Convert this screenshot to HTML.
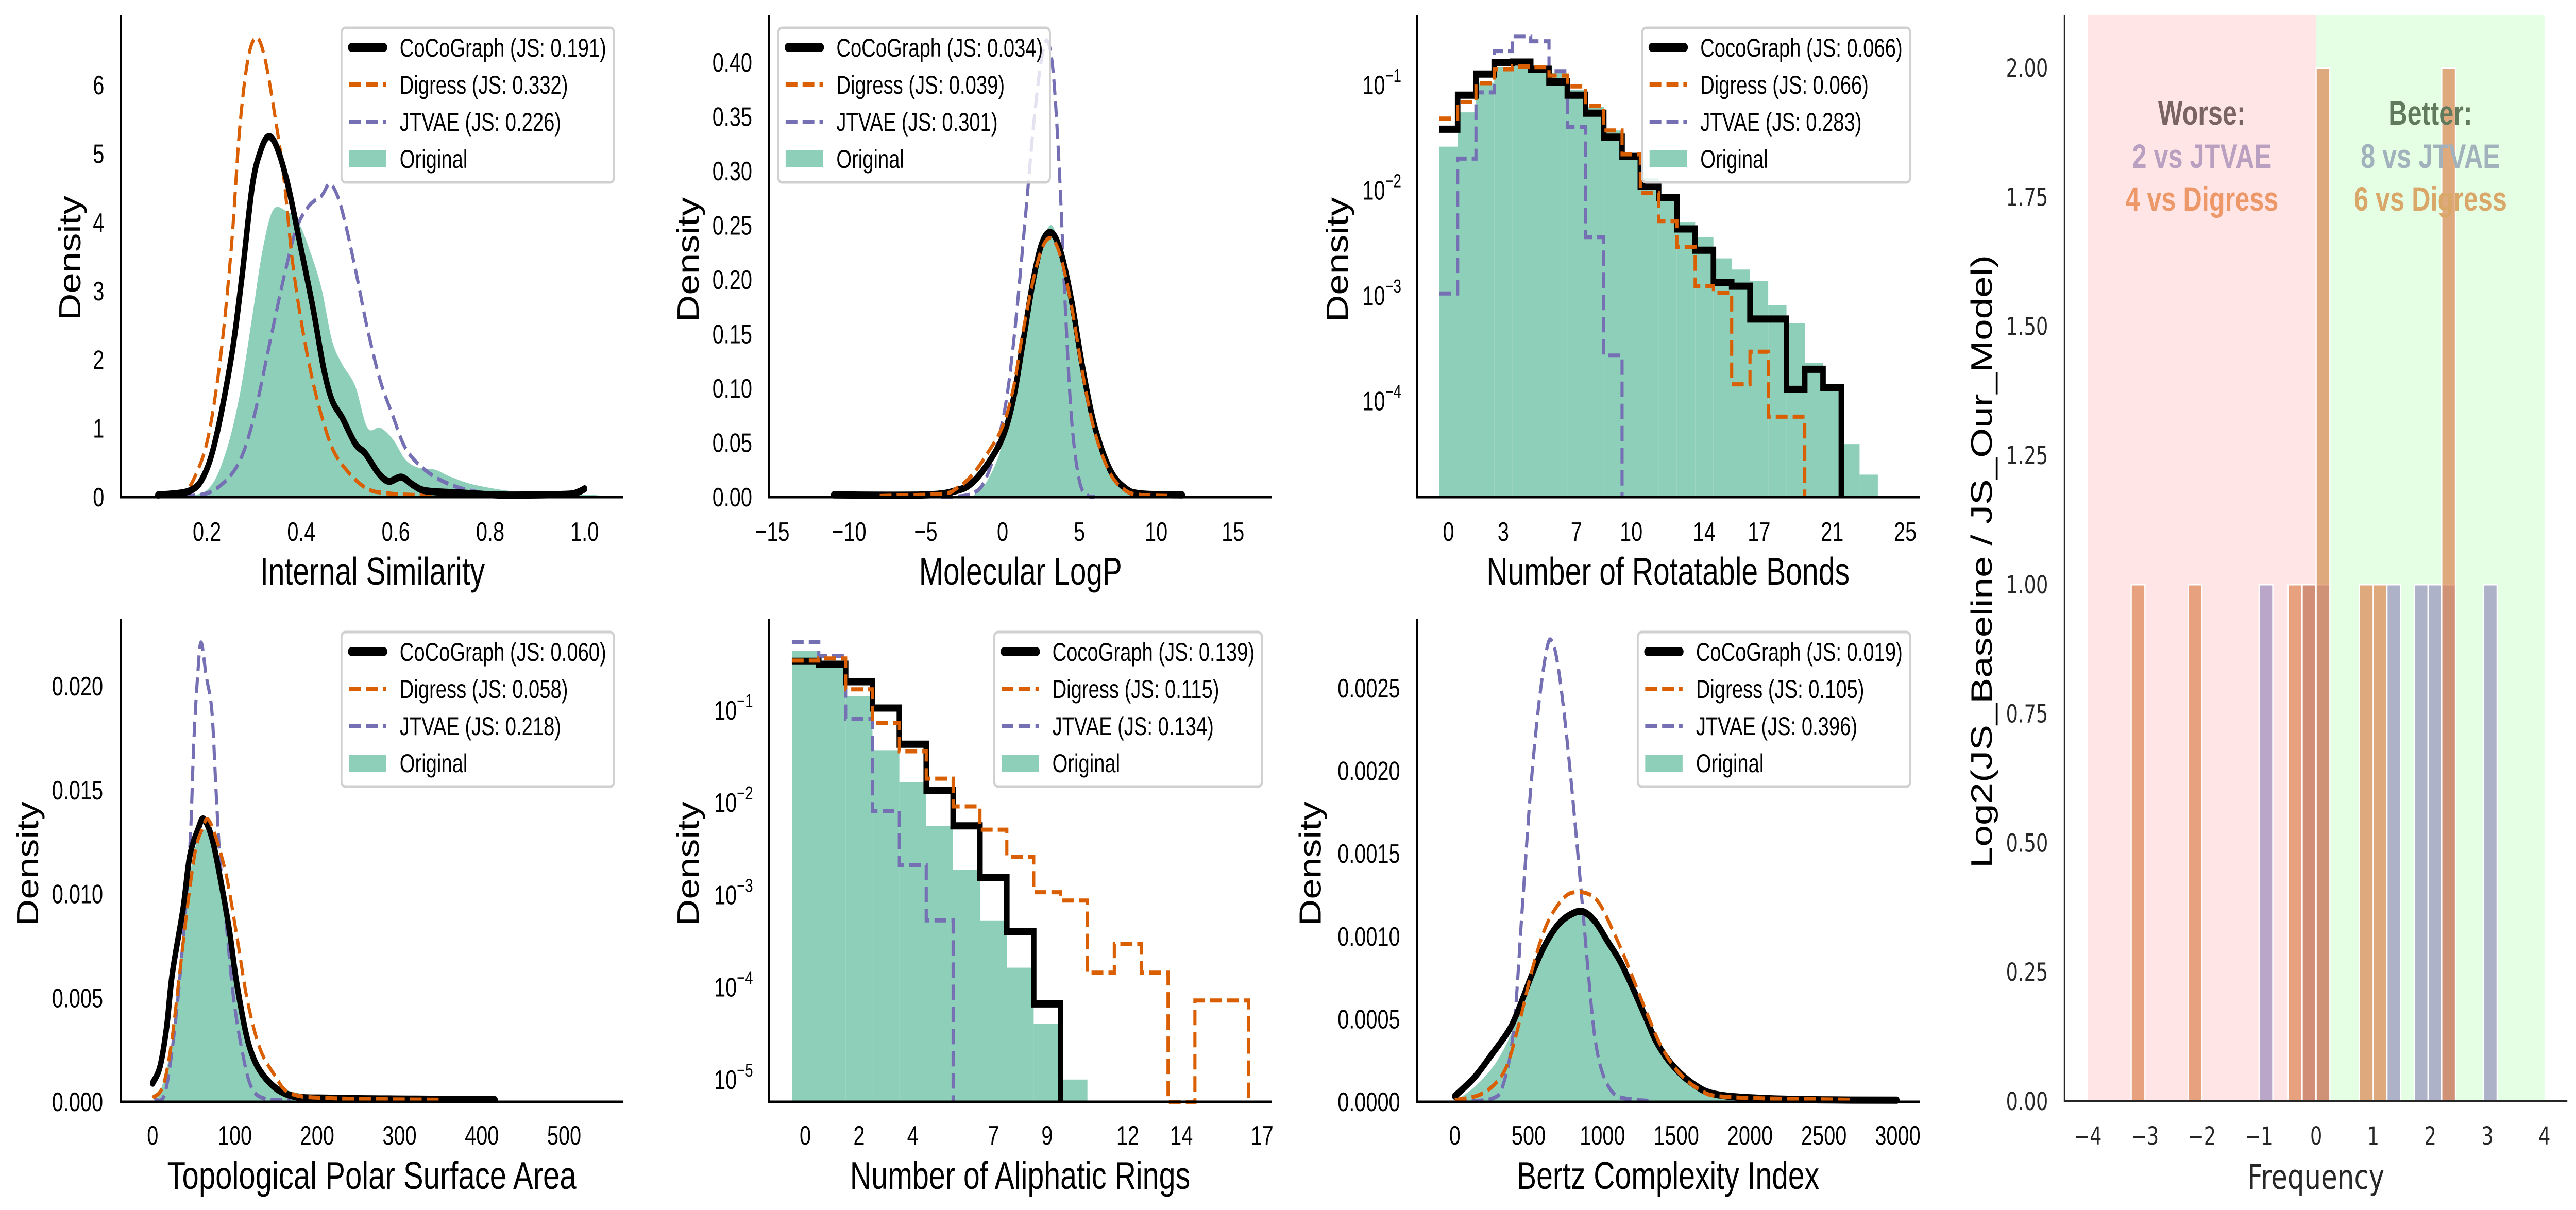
<!DOCTYPE html>
<html><head><meta charset="utf-8"><title>Distribution comparison</title>
<style>
html,body{margin:0;padding:0;background:#fff;width:100%;height:100%;overflow:hidden;}
svg{display:block;width:100vw;height:100vh;}
text{font-family:"Liberation Sans",sans-serif;fill:#000;}
.dv{font-family:"DejaVu Sans","Liberation Sans",sans-serif;fill:#262626;}
</style></head>
<body>
<svg id="fig" xmlns="http://www.w3.org/2000/svg" viewBox="0 0 6548 2349" preserveAspectRatio="none"></svg>
<script>
// ---------------- DATA ----------------
// Panel 1: Internal Similarity (KDE)
const p1CocoX=[0.096,0.163,0.194,0.22,0.252,0.274,0.296,0.314,0.331,0.349,0.372,0.398,0.425,0.447,0.465,0.487,0.514,0.536,0.563,0.585,0.612,0.638,0.665,0.736,0.825,0.958,0.985,1.0];
const p1CocoY=[0.03,0.09,0.32,0.89,2.05,3.2,4.53,5.05,5.25,5.08,4.53,3.66,2.74,1.88,1.41,1.15,0.78,0.63,0.35,0.23,0.29,0.17,0.09,0.06,0.03,0.04,0.07,0.12];
const p1DigX=[0.096,0.149,0.176,0.203,0.229,0.252,0.269,0.287,0.305,0.323,0.345,0.363,0.38,0.398,0.42,0.443,0.469,0.505,0.54,0.576,0.647,0.825];
const p1DigY=[0.02,0.06,0.32,0.89,2.05,3.66,5.34,6.38,6.69,6.38,5.51,4.65,3.5,2.63,1.82,1.18,0.66,0.32,0.12,0.06,0.03,0.02];
const p1JtX=[0.114,0.185,0.229,0.269,0.3,0.336,0.363,0.389,0.416,0.443,0.46,0.478,0.496,0.518,0.54,0.567,0.594,0.62,0.656,0.7,0.754,0.825,0.985];
const p1JtY=[0.02,0.03,0.17,0.52,1.18,2.34,3.2,3.9,4.24,4.39,4.56,4.36,3.9,3.2,2.45,1.7,1.18,0.72,0.43,0.23,0.1,0.04,0.03];
const p1OrigX=[0.149,0.203,0.238,0.269,0.296,0.318,0.34,0.367,0.394,0.42,0.443,0.465,0.487,0.514,0.54,0.567,0.594,0.62,0.647,0.683,0.718,0.772,0.87,1.02,1.03];
const p1OrigY=[0,0.12,0.61,1.47,2.63,3.6,4.18,4.17,4.0,3.55,3.03,2.28,1.93,1.62,1.01,1.01,0.84,0.55,0.43,0.4,0.29,0.17,0.07,0.03,0];
const p1XTicks=[0.2,0.4,0.6,0.8,1.0];
const p1XLabels=["0.2","0.4","0.6","0.8","1.0"];
const p1YTicks=[0,1,2,3,4,5,6];
const p1YLabels=["0","1","2","3","4","5","6"];
const p1Legend=["CoCoGraph (JS: 0.191)","Digress (JS: 0.332)","JTVAE (JS: 0.226)","Original"];

// Panel 2: Molecular LogP
const p2CocoX=[-11,-5,-3,-2,-1,0,0.7,1.3,2,2.6,3.2,3.8,4.5,5.2,6,7,8,9,11.7];
const p2CocoY=[0.002,0.002,0.006,0.013,0.03,0.055,0.09,0.14,0.2,0.235,0.243,0.225,0.18,0.12,0.065,0.025,0.008,0.003,0.002];
const p2DigX=[-8,-4,-3,-2,-1,0,0.7,1.3,2,2.6,3.2,3.8,4.5,5.2,6,7,8,9,11];
const p2DigY=[0.001,0.003,0.008,0.02,0.04,0.065,0.1,0.15,0.2,0.23,0.238,0.22,0.175,0.115,0.06,0.022,0.006,0.002,0.001];
const p2JtX=[-4,-2,-1,0,0.7,1.5,2,2.5,2.9,3.3,3.7,4.1,4.5,5,5.5,6];
const p2JtY=[0,0.003,0.02,0.07,0.14,0.26,0.34,0.40,0.42,0.39,0.3,0.17,0.07,0.015,0.002,0];
const p2OrigX=[-2,-1,0,1,2,2.6,3.2,3.8,4.5,5.2,6,7,8,9];
const p2OrigY=[0,0.015,0.05,0.12,0.2,0.235,0.25,0.225,0.175,0.11,0.055,0.02,0.005,0];
const p2XTicks=[-15,-10,-5,0,5,10,15];
const p2XLabels=["\u221215","\u221210","\u22125","0","5","10","15"];
const p2YTicks=[0,0.05,0.1,0.15,0.2,0.25,0.3,0.35,0.4];
const p2YLabels=["0.00","0.05","0.10","0.15","0.20","0.25","0.30","0.35","0.40"];
const p2Legend=["CoCoGraph (JS: 0.034)","Digress (JS: 0.039)","JTVAE (JS: 0.301)","Original"];

// Panel 3: Rotatable bonds (log histogram, bins centered on integers)
const p3Orig=[0.026,0.055,0.105,0.147,0.15,0.147,0.13,0.09,0.062,0.037,0.021,0.013,0.0081,0.005,0.0036,0.00226,0.00177,0.00137,0.00081,0.00055,0.00023,0.000137,0.000039,0.00002];
const p3Coco=[0.038,0.080,0.127,0.163,0.165,0.141,0.107,0.080,0.054,0.032,0.021,0.011,0.0085,0.0043,0.0027,0.00134,0.00123,0.0006,0.0006,0.000129,0.0002,0.000134];
const p3Dig=[0.048,0.069,0.104,0.141,0.15,0.148,0.123,0.097,0.063,0.037,0.022,0.0095,0.0051,0.0029,0.00123,0.00107,0.000144,0.000294,0.000071,0.000071];
const p3Jt=[0.00105,0.020,0.085,0.21,0.29,0.26,0.135,0.040,0.0036,0.00027];
const p3XTicks=[0,3,7,10,14,17,21,25];
const p3YExp=[-1,-2,-3,-4];
const p3Legend=["CocoGraph (JS: 0.066)","Digress (JS: 0.066)","JTVAE (JS: 0.283)","Original"];

// Panel 5: TPSA
const p5CocoX=[0,9,17,24,37,45,55,62,72,82,93,103,118,138,168,219,320,416];
const p5CocoY=[0.0009,0.0017,0.0036,0.0062,0.0093,0.0118,0.0131,0.0136,0.0127,0.0108,0.0083,0.0055,0.0026,0.0011,0.0003,0.00017,0.00013,0.0001];
const p5DigX=[0,12,22,32,42,52,60,67,77,90,103,115,130,148,168,219,351];
const p5DigY=[0.0002,0.0007,0.0026,0.0059,0.0093,0.0121,0.0131,0.0136,0.0127,0.0108,0.0078,0.0049,0.0026,0.0013,0.0004,0.00017,0.0001];
const p5JtX=[2,14,24,34,45,50,55,59,65,72,77,82,90,98,108,120,138,168];
const p5JtY=[0.0001,0.0003,0.0026,0.0064,0.0121,0.0173,0.0207,0.0221,0.0205,0.0188,0.015,0.0116,0.0083,0.0051,0.0026,0.0007,0.00013,0.0001];
const p5OrigX=[-9,7,22,32,45,55,62,72,82,93,105,118,138,168,219,320,371];
const p5OrigY=[0,0.0003,0.0026,0.0064,0.0108,0.0127,0.0131,0.0127,0.0108,0.008,0.0049,0.0026,0.0011,0.0005,0.00023,0.0001,0];
const p5XTicks=[0,100,200,300,400,500];
const p5XLabels=["0","100","200","300","400","500"];
const p5YTicks=[0,0.005,0.01,0.015,0.02];
const p5YLabels=["0.000","0.005","0.010","0.015","0.020"];
const p5Legend=["CoCoGraph (JS: 0.060)","Digress (JS: 0.058)","JTVAE (JS: 0.218)","Original"];

// Panel 6: Aliphatic rings (log histogram)
const p6Orig=[0.44,0.305,0.143,0.037,0.0167,0.0056,0.00187,0.00053,0.000163,0.00004,0.00001];
const p6Coco=[0.34,0.316,0.204,0.106,0.043,0.0136,0.0056,0.00155,0.0004,0.000066];
const p6Dig=[0.346,0.365,0.169,0.073,0.036,0.0182,0.0091,0.0051,0.0026,0.00107,0.00087,0.000144,0.000295,0.000144,0,0.000072,0.000072];
const p6Jt=[0.55,0.39,0.0806,0.0081,0.0021,0.00053];
const p6XTicks=[0,2,4,7,9,12,14,17];
const p6YExp=[-1,-2,-3,-4,-5];
const p6Legend=["CocoGraph (JS: 0.139)","Digress (JS: 0.115)","JTVAE (JS: 0.134)","Original"];

// Panel 7: Bertz
const p7CocoX=[0,133,245,352,414,527,612,699,781,866,950,1035,1119,1204,1288,1373,1486,1627,1768,2050,2473,2994];
const p7CocoY=[0.000034,0.000148,0.00028,0.000412,0.00052,0.00078,0.00095,0.00107,0.00113,0.00115,0.00109,0.00097,0.00085,0.00069,0.00052,0.00035,0.00021,0.0001,0.000045,0.000022,0.000012,0.00001];
const p7DigX=[0,161,273,358,443,527,612,699,781,894,978,1063,1147,1232,1317,1401,1514,1655,1852,2698];
const p7DigY=[0.00001,0.00004,0.00011,0.00023,0.0005,0.00081,0.00105,0.00119,0.00126,0.00126,0.0012,0.00105,0.00088,0.00069,0.0005,0.00033,0.00018,0.000077,0.000029,0.000012];
const p7JtX=[0,245,330,400,457,513,570,626,660,696,739,781,823,866,908,950,1006,1091,1232,1345];
const p7JtY=[0.000005,0.000017,0.00011,0.00045,0.00117,0.00188,0.00241,0.00275,0.00278,0.00265,0.00236,0.002,0.0016,0.00117,0.00074,0.00038,0.00016,0.00004,0.000012,0.000005];
const p7OrigX=[-8,133,273,386,499,612,724,837,950,1063,1176,1288,1401,1514,1655,1852,2191,2332];
const p7OrigY=[0,0.000089,0.00023,0.00042,0.00069,0.00093,0.00109,0.00115,0.00109,0.00095,0.00076,0.00053,0.00033,0.00018,0.000089,0.000036,0.000005,0];
const p7XTicks=[0,500,1000,1500,2000,2500,3000];
const p7XLabels=["0","500","1000","1500","2000","2500","3000"];
const p7YTicks=[0,0.0005,0.001,0.0015,0.002,0.0025];
const p7YLabels=["0.0000","0.0005","0.0010","0.0015","0.0020","0.0025"];
const p7Legend=["CoCoGraph (JS: 0.019)","Digress (JS: 0.105)","JTVAE (JS: 0.396)","Original"];

// Panel 4: log2 ratio histogram
const p4DigStart=[-3.24,-2.24,-0.49,-0.245,0,0.76,1.0,2.2];
const p4DigCount=[1,1,1,1,2,1,1,2];
const p4JtStart=[-1.0,-0.245,0,1.24,1.72,1.96,2.2,2.93];
const p4JtCount=[1,1,1,1,1,1,1,1];
const p4BinW=0.24;
const p4XTicks=[-4,-3,-2,-1,0,1,2,3,4];
const p4XLabels=["\u22124","\u22123","\u22122","\u22121","0","1","2","3","4"];
const p4YTicks=[0,0.25,0.5,0.75,1,1.25,1.5,1.75,2];
const p4YLabels=["0.00","0.25","0.50","0.75","1.00","1.25","1.50","1.75","2.00"];

// ---------------- DRAWING ----------------
const NS="http://www.w3.org/2000/svg";
const svg=document.getElementById('fig');
function mk(tag,attrs,parent){const e=document.createElementNS(NS,tag);for(const k in attrs)e.setAttribute(k,attrs[k]);(parent||svg).appendChild(e);return e;}
function lin(d0,p0,d1,p1){return v=>p0+(v-d0)*(p1-p0)/(d1-d0);}
function logS(y1,dec){return v=>y1-(Math.log10(v)+1)*dec;}
const C_DIG="#d95f02",C_JT="#7570b3",C_ORIG="#8ecfb9";

function smoothPath(pts){
  let d="M"+pts[0][0].toFixed(1)+","+pts[0][1].toFixed(1);
  for(let i=0;i<pts.length-1;i++){
    const p0=pts[Math.max(0,i-1)],p1=pts[i],p2=pts[i+1],p3=pts[Math.min(pts.length-1,i+2)];
    const c1x=p1[0]+(p2[0]-p0[0])/6,c1y=p1[1]+(p2[1]-p0[1])/6;
    const c2x=p2[0]-(p3[0]-p1[0])/6,c2y=p2[1]-(p3[1]-p1[1])/6;
    d+=" C"+c1x.toFixed(1)+","+c1y.toFixed(1)+" "+c2x.toFixed(1)+","+c2y.toFixed(1)+" "+p2[0].toFixed(1)+","+p2[1].toFixed(1);
  }
  return d;
}
function kde(g,sx,sy,xs,ys,style,name){
  const pts=xs.map((x,i)=>[sx(x),sy(ys[i])]);
  let d=smoothPath(pts);
  const attrs={d:d,fill:"none","stroke-linecap":"round","stroke-linejoin":"round"};
  if(style==="fill"){attrs.d=d+" L"+pts[pts.length-1][0]+","+sy(0)+" L"+pts[0][0]+","+sy(0)+" Z";attrs.fill=C_ORIG;attrs["stroke-linecap"]="butt";}
  else if(style==="coco"){attrs.stroke="#000";attrs["stroke-width"]=14;}
  else {attrs.stroke=style;attrs["stroke-width"]=8;attrs["stroke-dasharray"]="30 13";attrs["stroke-linecap"]="butt";}
  const p=mk("path",attrs,g);
  
  
}
function stepLine(g,sx,sy,vals,ybot,style,name){
  let d="";
  vals.forEach((v,k)=>{
    const y=v>0?sy(v):ybot;
    const xa=sx(k-0.5),xb=sx(k+0.5);
    d+=(k===0?"M":" L")+xa.toFixed(1)+","+y.toFixed(1)+" L"+xb.toFixed(1)+","+y.toFixed(1);
  });
  d+=" L"+sx(vals.length-0.5).toFixed(1)+","+ybot;
  const attrs={d:d,fill:"none","stroke-linejoin":"miter"};
  if(style==="coco"){attrs.stroke="#000";attrs["stroke-width"]=14;}
  else{attrs.stroke=style;attrs["stroke-width"]=8;attrs["stroke-dasharray"]="30 13";}
  const p=mk("path",attrs,g);
  
  
}
function histBars(g,sx,sy,vals,ybot,name){
  vals.forEach((v,k)=>{
    const x=sx(k-0.5),w=sx(k+0.5)-x,y=sy(v);
    const r=mk("rect",{x:x,y:y,width:w,height:ybot-y,fill:C_ORIG},g);
    
    
  });
}
function axes(g,x0,x1,yTop,yBot,name){
  const a=mk("path",{d:`M${x0},${yTop} L${x0},${yBot} L${x1},${yBot}`,fill:"none",stroke:"#000","stroke-width":5},g);
  
  
}
function xTicks(g,sx,ticks,labels,base,name){
  ticks.forEach((t,i)=>{
    const e=mk("text",{x:sx(t),y:base,"font-size":52,"text-anchor":"middle"},g);
    e.textContent=labels[i];
    
    
  });
}
function yTicks(g,sy,ticks,labels,right,name){
  ticks.forEach((t,i)=>{
    const e=mk("text",{x:right,y:sy(t)+18,"font-size":52,"text-anchor":"end"},g);
    e.textContent=labels[i];
    
    
  });
}
function yLogTicks(g,exps,y1,dec,right,name){
  exps.forEach(ex=>{
    const y=y1-(ex+1)*dec;
    const e=mk("text",{x:right,y:y+18,"font-size":52,"text-anchor":"end"},g);
    const a=mk("tspan",{},e);a.textContent="10";
    const b=mk("tspan",{"font-size":36,dy:-24},e);b.textContent="\u2212"+Math.abs(ex);
    
    
  });
}
function titles(g,xlab,xc,xbase,xw,ylx,yly,name){
  const t=mk("text",{x:xc,y:xbase,"font-size":75,"text-anchor":"middle",fill:"#262626",textLength:xw,lengthAdjust:"spacingAndGlyphs"},g);
  t.textContent=xlab;
  
  
  const d=mk("text",{x:0,y:0,"font-size":78,"text-anchor":"middle",fill:"#262626",textLength:242,lengthAdjust:"spacingAndGlyphs",transform:`translate(${ylx+28},${yly}) rotate(-90)`},g);
  d.textContent="Density";
  
  
}
function legend(g,x0,x1,y0,labels,name){
  const lg=mk("g",{},g);
  
  
  const r=mk("rect",{x:x0,y:y0,width:x1-x0,height:300,rx:10,fill:"#fff","fill-opacity":0.8,stroke:"#d0d0d0","stroke-width":5},lg);
  
  
  const rows=[38,110,182,254];
  labels.forEach((lab,i)=>{
    const cy=y0+rows[i];
    let h;
    if(i===0)h=mk("line",{x1:x0+25,x2:x0+108,y1:cy,y2:cy,stroke:"#000","stroke-width":17,"stroke-linecap":"round"},lg);
    else if(i<3)h=mk("line",{x1:x0+19,x2:x0+114,y1:cy,y2:cy,stroke:i===1?C_DIG:C_JT,"stroke-width":8,"stroke-dasharray":"30 13"},lg);
    else h=mk("rect",{x:x0+19,y:cy-16,width:95,height:33,fill:C_ORIG},lg);
    
    
    const t=mk("text",{x:x0+148,y:cy+18,"font-size":50,fill:"#262626"},lg);
    t.textContent=lab;
    
    
  });
}
function panel(name){const g=mk("g",{});return g;}

// Panel 1
(function(){
  const g=panel('internal-similarity-panel');
  const sx=lin(0,286,1,1486),sy=lin(0,965,1,831.7);
  kde(g,sx,sy,p1OrigX,p1OrigY,"fill",'original-density');
  kde(g,sx,sy,p1JtX,p1JtY,C_JT,'jtvae-density');
  kde(g,sx,sy,p1DigX,p1DigY,C_DIG,'digress-density');
  kde(g,sx,sy,p1CocoX,p1CocoY,"coco",'cocograph-density');
  axes(g,307,1584,29,965,'internal-similarity');
  xTicks(g,sx,p1XTicks,p1XLabels,1050,'internal-similarity');
  yTicks(g,sy,p1YTicks,p1YLabels,265,'internal-similarity');
  titles(g,"Internal Similarity",947,1135,571,176,501,'internal-similarity');
  legend(g,868,1561,54,p1Legend,'internal-similarity');
})();
// Panel 2
(function(){
  const g=panel('logp-panel');
  const sx=lin(0,2548.5,1,2587.54),sy=lin(0,965,1,-1145);
  kde(g,sx,sy,p2OrigX,p2OrigY,"fill",'original-density');
  kde(g,sx,sy,p2JtX,p2JtY,C_JT,'jtvae-density');
  kde(g,sx,sy,p2CocoX,p2CocoY,"coco",'cocograph-density');
  kde(g,sx,sy,p2DigX,p2DigY,C_DIG,'digress-density');
  axes(g,1954,3233,29,965,'logp');
  xTicks(g,sx,p2XTicks,p2XLabels,1050,'logp');
  yTicks(g,sy,p2YTicks,p2YLabels,1912,'logp');
  titles(g,"Molecular LogP",2594,1135,516,1748,504,'logp');
  legend(g,1978,2669,54,p2Legend,'logp');
})();
// Panel 3
(function(){
  const g=panel('rotatable-bonds-panel');
  const sx=lin(0,3682,1,3728.44),sy=logS(165,204.5);
  histBars(g,sx,sy,p3Orig,965,'original-hist');
  stepLine(g,sx,sy,p3Jt,965,C_JT,'jtvae-step');
  stepLine(g,sx,sy,p3Coco,965,"coco",'cocograph-step');
  stepLine(g,sx,sy,p3Dig,965,C_DIG,'digress-step');
  axes(g,3602,4880,29,965,'rotatable-bonds');
  xTicks(g,sx,p3XTicks,p3XTicks.map(String),1050,'rotatable-bonds');
  yLogTicks(g,p3YExp,165,204.5,3562,'rotatable-bonds');
  titles(g,"Number of Rotatable Bonds",4240,1135,923,3398,504,'rotatable-bonds');
  legend(g,4174,4856,54,p3Legend,'rotatable-bonds');
})();
// Panel 5
(function(){
  const g=panel('tpsa-panel');
  const sx=lin(0,388,1,390.092),sy=lin(0,2139,1,2139-40346);
  kde(g,sx,sy,p5OrigX,p5OrigY,"fill",'original-density');
  kde(g,sx,sy,p5JtX,p5JtY,C_JT,'jtvae-density');
  kde(g,sx,sy,p5CocoX,p5CocoY,"coco",'cocograph-density');
  kde(g,sx,sy,p5DigX,p5DigY,C_DIG,'digress-density');
  axes(g,307,1584,1202,2139,'tpsa');
  xTicks(g,sx,p5XTicks,p5XLabels,2222,'tpsa');
  yTicks(g,sy,p5YTicks,p5YLabels,262,'tpsa');
  titles(g,"Topological Polar Surface Area",945,2308,1040,69,1677,'tpsa');
  legend(g,868,1561,1227,p5Legend,'tpsa');
})();
// Panel 6
(function(){
  const g=panel('aliphatic-rings-panel');
  const sx=lin(0,2047,1,2115.3),sy=logS(1379,179.2);
  histBars(g,sx,sy,p6Orig,2139,'original-hist');
  stepLine(g,sx,sy,p6Jt,2139,C_JT,'jtvae-step');
  stepLine(g,sx,sy,p6Coco,2139,"coco",'cocograph-step');
  stepLine(g,sx,sy,p6Dig,2139,C_DIG,'digress-step');
  axes(g,1954,3233,1202,2139,'aliphatic-rings');
  xTicks(g,sx,p6XTicks,p6XTicks.map(String),2222,'aliphatic-rings');
  yLogTicks(g,p6YExp,1379,179.2,1914,'aliphatic-rings');
  titles(g,"Number of Aliphatic Rings",2593,2308,865,1748,1677,'aliphatic-rings');
  legend(g,2527,3208,1227,p6Legend,'aliphatic-rings');
})();
// Panel 7
(function(){
  const g=panel('bertz-panel');
  const sx=lin(0,3698,1,3698.3753),sy=lin(0,2139,1,2139-321231);
  kde(g,sx,sy,p7OrigX,p7OrigY,"fill",'original-density');
  kde(g,sx,sy,p7JtX,p7JtY,C_JT,'jtvae-density');
  kde(g,sx,sy,p7CocoX,p7CocoY,"coco",'cocograph-density');
  kde(g,sx,sy,p7DigX,p7DigY,C_DIG,'digress-density');
  axes(g,3602,4880,1202,2139,'bertz');
  xTicks(g,sx,p7XTicks,p7XLabels,2222,'bertz');
  yTicks(g,sy,p7YTicks,p7YLabels,3559,'bertz');
  titles(g,"Bertz Complexity Index",4240,2308,769,3329,1677,'bertz');
  legend(g,4163,4856,1227,p7Legend,'bertz');
})();
// Panel 4
(function(){
  const g=panel('log2-ratio-panel');
  const sx=lin(0,5887.5,1,6032.6),sy=lin(0,2138,1,1135);
  const pink=mk("rect",{x:sx(-4),y:30,width:sx(0)-sx(-4),height:2108,fill:"#ffe5e5"},g);
  
  
  const green=mk("rect",{x:sx(0),y:30,width:sx(4)-sx(0),height:2108,fill:"#e5ffe5"},g);
  
  
  p4JtStart.forEach((s,i)=>{
    const r=mk("rect",{x:sx(s),y:sy(p4JtCount[i]),width:sx(s+p4BinW)-sx(s),height:sy(0)-sy(p4JtCount[i]),fill:"#8172b3","fill-opacity":0.55,stroke:"#fff","stroke-width":3},g);
    
    
  });
  p4DigStart.forEach((s,i)=>{
    const r=mk("rect",{x:sx(s),y:sy(p4DigCount[i]),width:sx(s+p4BinW)-sx(s),height:sy(0)-sy(p4DigCount[i]),fill:"#dd8452","fill-opacity":0.7,stroke:"#fff","stroke-width":3},g);
    
    
  });
  const ax=mk("path",{d:"M5248,30 L5248,2138 L6526,2138",fill:"none",stroke:"#262626","stroke-width":4},g);
  
  
  p4XTicks.forEach((t,i)=>{
    const e=mk("text",{x:sx(t),y:2222,"font-size":48,"text-anchor":"middle",class:"dv"},g);
    e.textContent=p4XLabels[i];
    
    
  });
  p4YTicks.forEach((t,i)=>{
    const e=mk("text",{x:5206,y:sy(t)+17,"font-size":48,"text-anchor":"end",class:"dv"},g);
    e.textContent=p4YLabels[i];
    
    
  });
  const xt=mk("text",{x:5887,y:2308,"font-size":66,"text-anchor":"middle",class:"dv",textLength:348,lengthAdjust:"spacingAndGlyphs"},g);
  xt.textContent="Frequency";
  
  
  const yt=mk("text",{x:0,y:0,"font-size":75,"text-anchor":"middle",fill:"#262626",textLength:1190,lengthAdjust:"spacingAndGlyphs",transform:"translate(5063,1090) rotate(-90)"},g);
  yt.textContent="Log2(JS_Baseline / JS_Our_Model)";
  
  
  const ann=[["Worse:",5597,242,"#7a6363"],["2 vs JTVAE",5597,326,"#b9a0c0"],["4 vs Digress",5597,409,"#ec9868"],
             ["Better:",6178,242,"#617a5e"],["8 vs JTVAE",6178,326,"#a2b2bc"],["6 vs Digress",6178,409,"#d9a868"]];
  ann.forEach(a=>{
    const e=mk("text",{x:a[1],y:a[2],"font-size":66,"font-weight":"bold","text-anchor":"middle",style:"font-family:'Liberation Sans',sans-serif;fill:"+a[3]},g);
    e.textContent=a[0];
    
    
  });
})();
</script>
</body></html>
